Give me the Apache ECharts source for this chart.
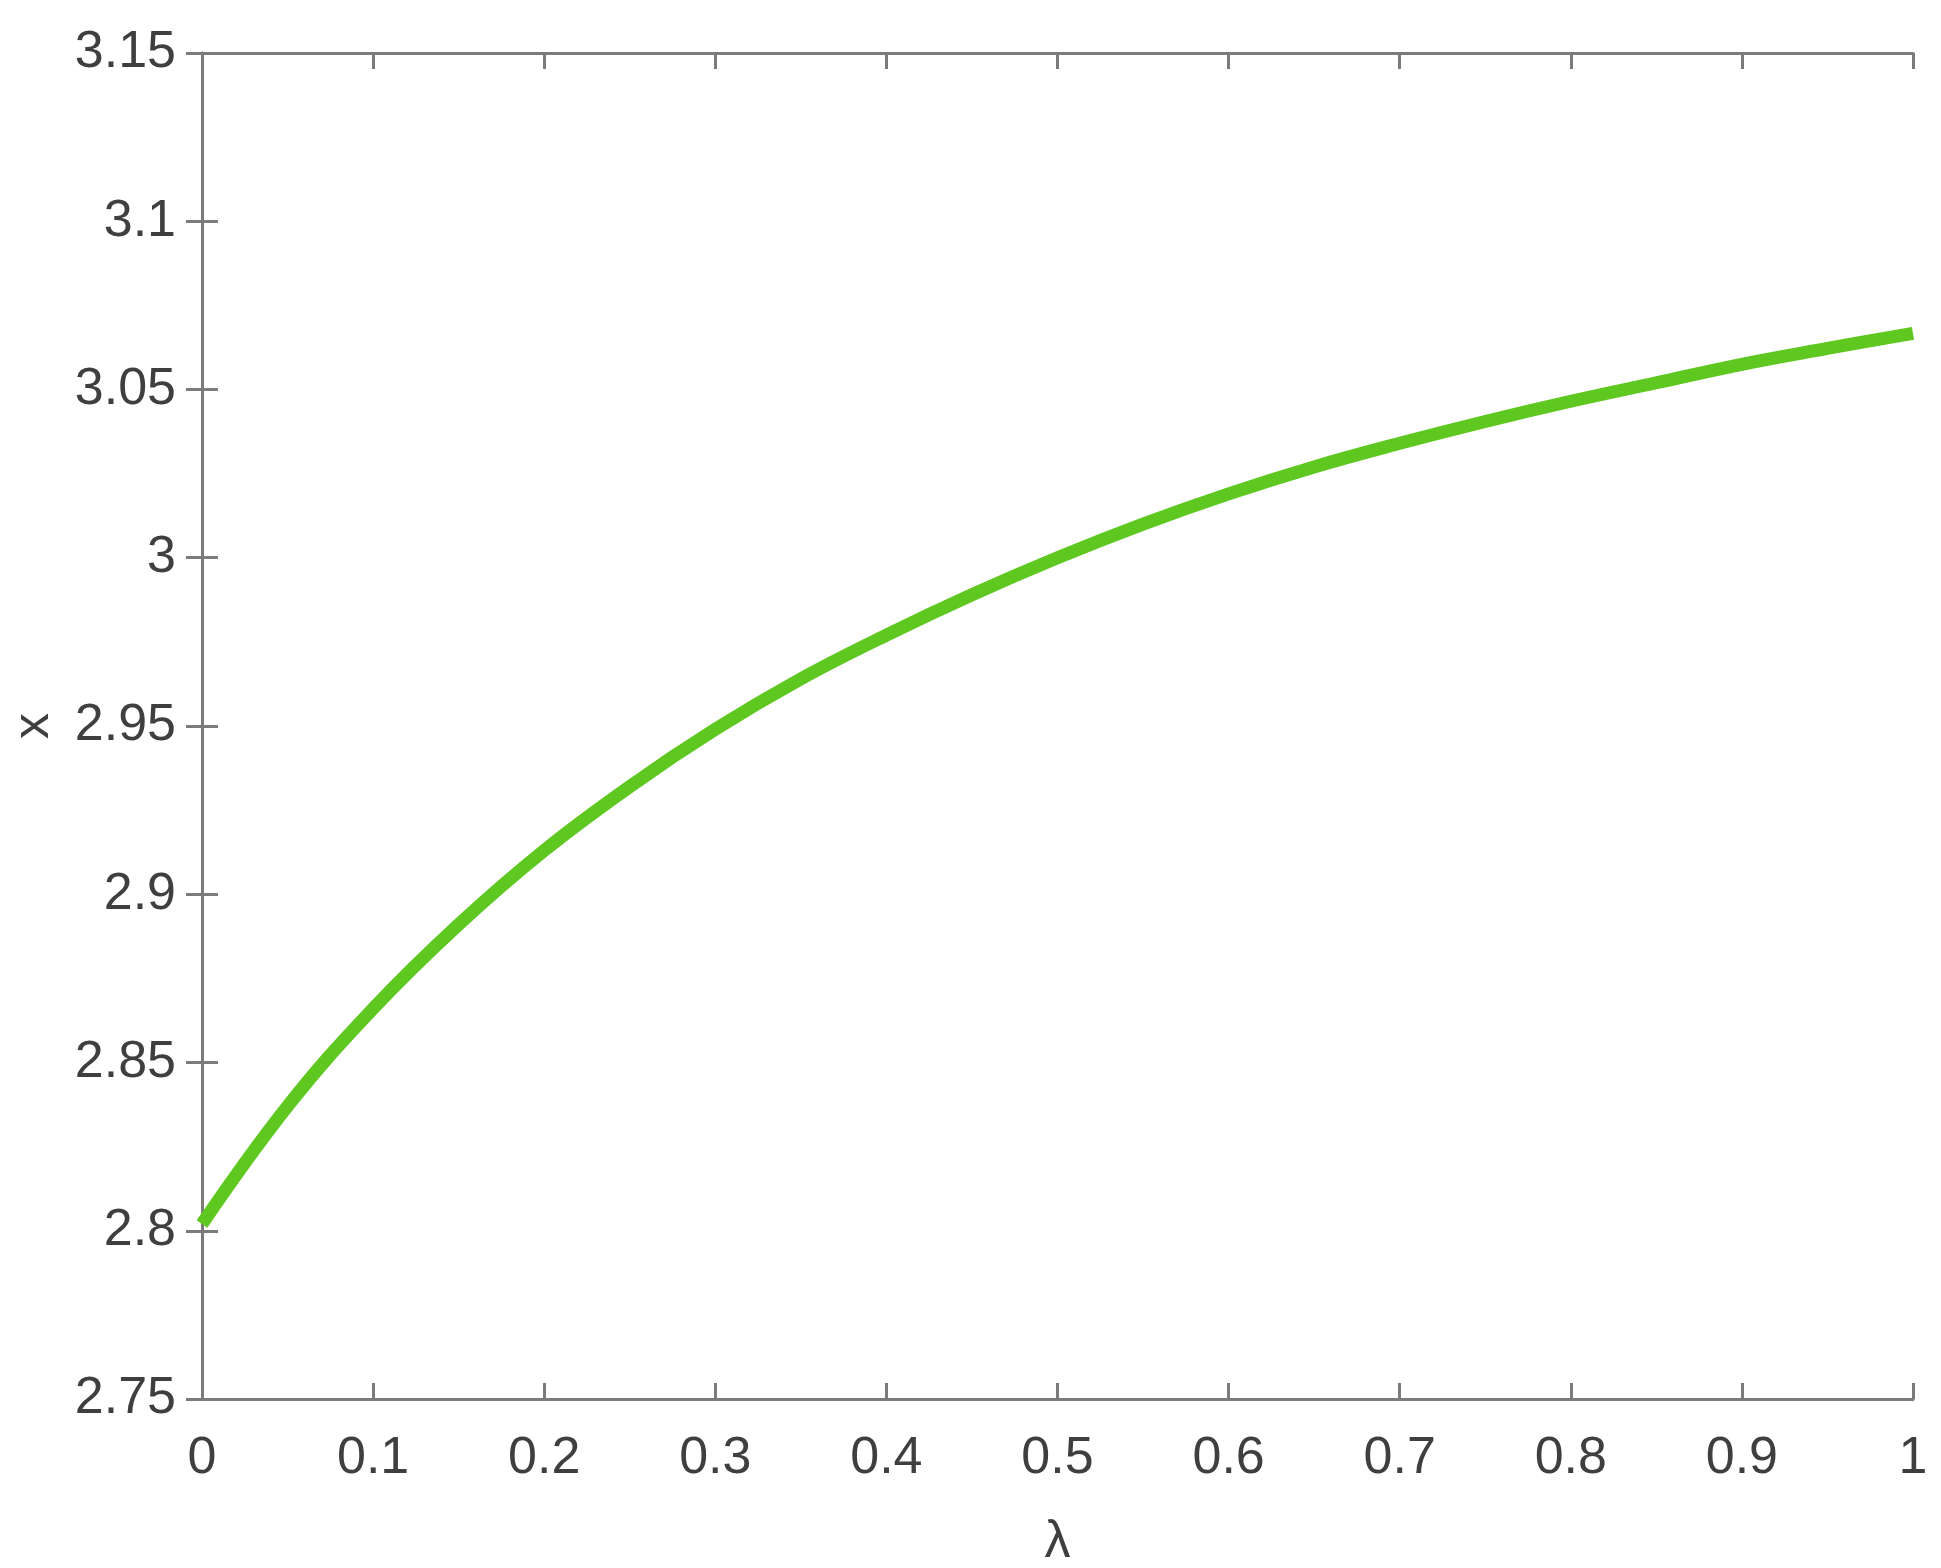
<!DOCTYPE html>
<html>
<head>
<meta charset="utf-8">
<script src="https://cdn.jsdelivr.net/npm/echarts@6/dist/echarts.min.js"></script>
<style>
html,body{margin:0;padding:0;background:#fff;}
#main{width:1941px;height:1568px;}
</style>
</head>
<body>
<div id="main"></div>
<script>
// values
var lambdaVals = [0, 0.05, 0.1, 0.15, 0.2, 0.25, 0.3, 0.35, 0.4, 0.45, 0.5,
                  0.55, 0.6, 0.65, 0.7, 0.75, 0.8, 0.85, 0.9, 0.95, 1];
var xVals = [2.802, 2.837, 2.866, 2.891, 2.913, 2.932, 2.949, 2.964, 2.977, 2.989, 3.000,
             3.010, 3.019, 3.027, 3.034, 3.0405, 3.0465, 3.052, 3.0575, 3.0622, 3.0667];
var xName = 'λ';
var yName = 'x';

var dom = document.getElementById("main");
var myChart = echarts.init(dom);

var points = [];
for (var i = 0; i < lambdaVals.length; i++) {
    points.push([lambdaVals[i], xVals[i]]);
}

var axisColor = '#7b7b7b';
var textColor = '#3f3f3f';
var font = 'Liberation Sans';

var option = {
    backgroundColor: '#fff',
    animation: false,
    grid: {
        left: 202,
        right: 28,
        top: 53,
        bottom: 169,
        outerBoundsMode: 'none',
        containLabel: false
    },
    xAxis: [{
        type: 'value',
        min: 0,
        max: 1,
        interval: 0.1,
        name: xName,
        nameLocation: 'middle',
        nameGap: 118,
        nameTextStyle: {color: textColor, fontSize: 52, fontFamily: font},
        axisLine: {show: true, lineStyle: {color: axisColor, width: 3}},
        axisTick: {show: true, inside: true, length: 16, lineStyle: {color: axisColor, width: 3}},
        axisLabel: {color: textColor, fontSize: 52, fontFamily: font, margin: 34},
        splitLine: {show: false}
    }, {
        type: 'value',
        position: 'top',
        min: 0,
        max: 1,
        interval: 0.1,
        axisLine: {show: true, lineStyle: {color: axisColor, width: 3}},
        axisTick: {show: true, inside: true, length: 16, lineStyle: {color: axisColor, width: 3}},
        axisLabel: {show: false},
        splitLine: {show: false}
    }],
    yAxis: [{
        type: 'value',
        min: 2.75,
        max: 3.15,
        interval: 0.05,
        name: yName,
        nameLocation: 'middle',
        nameRotate: 90,
        nameGap: 142,
        nameTextStyle: {color: textColor, fontSize: 52, fontFamily: font},
        axisLine: {show: true, lineStyle: {color: axisColor, width: 3}},
        axisTick: {show: true, inside: true, length: 16, lineStyle: {color: axisColor, width: 3}},
        axisLabel: {color: textColor, fontSize: 52, fontFamily: font, margin: 26},
        splitLine: {show: false}
    }, {
        type: 'value',
        position: 'right',
        min: 2.75,
        max: 3.15,
        interval: 0.05,
        axisLine: {show: true, lineStyle: {color: axisColor, width: 3}},
        axisTick: {show: true, inside: true, length: 16, lineStyle: {color: axisColor, width: 3}},
        axisLabel: {show: false},
        splitLine: {show: false}
    }],
    series: [{
        type: 'line',
        data: points,
        smooth: 0.4,
        showSymbol: false,
        lineStyle: {color: '#5ec820', width: 13}
    }]
};

myChart.setOption(option, true);
</script>
</body>
</html>
